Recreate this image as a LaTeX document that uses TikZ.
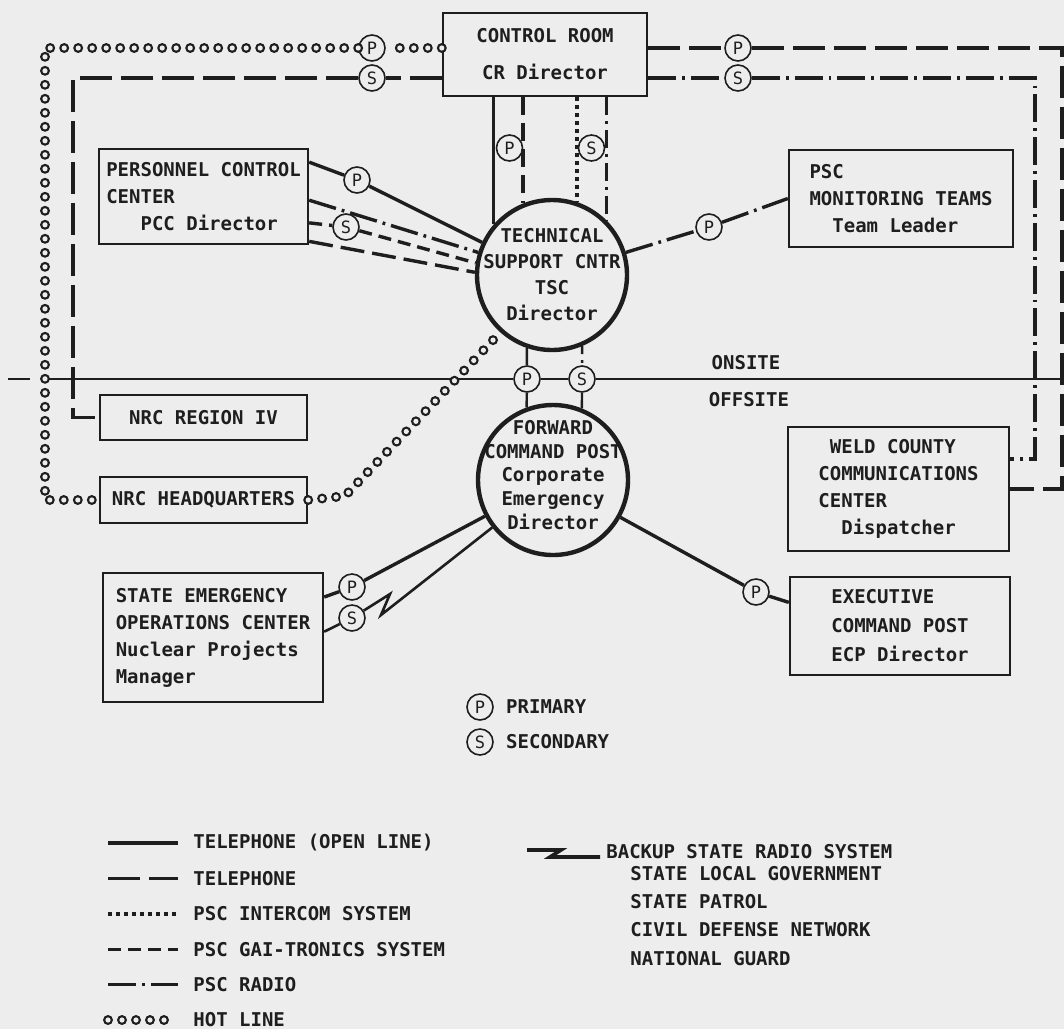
\documentclass[tikz,border=0pt]{standalone}
\usepackage{fontspec}
\newfontfamily\typer{DejaVu Sans Mono}[BoldFont={DejaVu Sans Mono Bold}]
\usetikzlibrary{positioning}

\definecolor{paper}{RGB}{237,237,237}
\definecolor{ink}{RGB}{30,30,30}

\begin{document}
\begin{tikzpicture}[
    x=0.5pt, y=-0.5pt,
    every node/.style={text=ink},
    box/.style={
      draw=ink, rectangle, line width=1.2pt, inner sep=0pt, align=center,
      font=\typer\bfseries\fontsize{9.5}{13.5}\selectfont
    },
    hub/.style={draw=ink, circle, line width=2.2pt, minimum size=75pt, inner sep=0pt},
    hubtext/.style={align=center, inner sep=0pt, font=\typer\bfseries\fontsize{9.5}{13}\selectfont},
    tag/.style={
      draw=ink, circle, line width=0.8pt, fill=paper, minimum size=13pt,
      inner sep=0pt, font=\typer\fontsize{8.5}{9}\selectfont
    },
    plain/.style={inner sep=1pt, font=\typer\bfseries\fontsize{9.5}{14.1}\selectfont},
    openline/.style={draw=ink, line width=1.7pt},
    phone/.style={draw=ink, line width=1.7pt, dash pattern=on 16pt off 4.5pt},
    intercom/.style={draw=ink, line width=1.7pt, dash pattern=on 1.8pt off 2.2pt},
    gaitronics/.style={draw=ink, line width=1.7pt, dash pattern=on 6.5pt off 3.5pt},
    radio/.style={draw=ink, line width=1.7pt, dash pattern=on 14pt off 3pt on 1.4pt off 3pt},
    hotline/.style={
      draw=ink, line width=5pt, line cap=round, dash pattern=on 0pt off 7pt,
      postaction={draw=paper, line width=2.6pt, line cap=round, dash pattern=on 0pt off 7pt}
    },
    backup/.style={draw=ink, line width=1.3pt},
    siteline/.style={draw=ink, line width=1pt}
]
    \path[use as bounding box, fill=paper] (0,0) rectangle (1064,1029);

    % Onsite nodes
    \node[box, minimum width=102pt, minimum height=41.5pt] (cr) at (545,54.5)
      {CONTROL ROOM\\[5pt]CR Director};
    \node[box, minimum width=104.5pt, minimum height=47.5pt, align=left] (pcc) at (203.5,196.5)
      {PERSONNEL CONTROL\\CENTER\\\phantom{XXX}PCC Director};
    \node[box, minimum width=112pt, minimum height=48.5pt, align=left] (psc) at (901,198.5)
      {PSC\\MONITORING TEAMS\\\phantom{XX}Team Leader};
    \node[hub, label={[hubtext]center:{TECHNICAL\\SUPPORT CNTR\\TSC\\Director}}] (tsc) at (552,275) {};

    % Offsite nodes
    \node[box, minimum width=103.5pt, minimum height=22.5pt] (nrcreg) at (203.5,417.5) {NRC REGION IV};
    \node[box, minimum width=103.5pt, minimum height=23pt] (nrchq) at (203.5,500) {NRC HEADQUARTERS};
    \node[hub, label={[hubtext, font=\typer\bfseries\fontsize{9.5}{11.8}\selectfont, yshift=2.5pt]center:{FORWARD\\COMMAND POST\\Corporate\\Emergency\\Director}}] (fcp) at (553,480) {};
    \node[box, minimum width=110.5pt, minimum height=62pt, align=left] (weld) at (898.5,489)
      {\phantom{X}WELD COUNTY\\COMMUNICATIONS\\CENTER\\\phantom{XX}Dispatcher};
    \node[box, minimum width=110pt, minimum height=49pt, align=left] (ecp) at (900,626)
      {EXECUTIVE\\[1pt]COMMAND POST\\[1pt]ECP Director};
    \node[box, minimum width=110pt, minimum height=64.5pt, align=left] (seoc) at (213,637.5)
      {STATE EMERGENCY\\OPERATIONS CENTER\\Nuclear Projects\\Manager};

    % Primary / secondary tags
    \node[tag] (phot) at (372,48) {P};
    \node[tag] (sphone) at (372,78) {S};
    \node[tag] (pright) at (738,48) {P};
    \node[tag] (sright) at (738,78) {S};
    \node[tag] (pcr) at (509.5,148) {P};
    \node[tag] (scr) at (591.5,148) {S};
    \node[tag] (ppcc) at (357,180) {P};
    \node[tag] (spcc) at (346,227) {S};
    \node[tag] (ppsc) at (709,227) {P};
    \node[tag] (pon) at (527,379) {P};
    \node[tag] (son) at (582,379) {S};
    \node[tag] (pseoc) at (352,587) {P};
    \node[tag] (sseoc) at (352,618) {S};
    \node[tag] (pecp) at (756,592) {P};

    % Onsite / offsite boundary
    \coordinate (siteA) at (8,379);
    \coordinate (siteB) at (30,379);
    \coordinate (siteW) at (45,379);
    \coordinate (siteE) at (1064,379);
    \draw[siteline] (siteA) -- (siteB);
    \draw[siteline] (siteW) -- (pon) -- (son) -- (siteE);
    \node[plain] (onsite) at (746,363) {ONSITE};
    \node[plain] (offsite) at (749,400) {OFFSITE};

    % Hot line
    \coordinate (hotNW) at (45,48);
    \coordinate (hotbend) at (345,496);
    \draw[hotline] (cr.west |- phot) -- (phot);
    \draw[hotline] (phot) -- (hotNW) |- (nrchq.west);
    \draw[hotline] (nrchq.east) -- (hotbend) -- (tsc.228);

    % Control room links
    \coordinate (phoneNW) at (73,78);
    \coordinate (phoneNE) at (1062,48);
    \coordinate (radioNE) at (1035,78);
    \draw[phone] (cr.west |- sphone) -- (sphone);
    \draw[phone] (sphone) -- (phoneNW) |- (nrcreg.west);
    \draw[phone] (cr.east |- pright) -- (pright);
    \draw[phone] (pright) -- (phoneNE) |- (weld.east);
    \draw[radio] (cr.east |- sright) -- (sright);
    \draw[radio] (sright) -- (radioNE) |- (weld.15);
    \draw[openline] (tsc.139 |- cr.south) -- (tsc.139);
    \draw[phone, dash pattern=on 9pt off 4pt] (tsc.112 |- cr.south) -- (tsc.112);
    \draw[intercom] (tsc.71 |- cr.south) -- (tsc.71);
    \draw[radio, dash pattern=on 9pt off 3pt on 1.4pt off 3pt] (tsc.45 |- cr.south) -- (tsc.45);

    % TSC links
    \draw[openline] (pcc.18) -- (ppcc) -- (tsc.155);
    \draw[radio] (pcc.-2) -- (tsc.163);
    \draw[gaitronics] (pcc.-14) -- (spcc) -- (tsc.171);
    \draw[phone, dash pattern=on 12pt off 4pt] (pcc.-23) -- (tsc.178);
    \draw[radio] (tsc.17) -- (ppsc) -- (psc.west);
    \draw[openline, line width=1.2pt] (tsc.-109) -- (pon) -- (fcp.110);
    \draw[radio, line width=1.2pt, dash pattern=on 4pt off 3pt on 1.4pt off 3pt] (tsc.-67) -- (son);
    \draw[openline, line width=1.2pt] (son) -- (fcp.68);

    % Forward command post links
    \coordinate (zigA) at (390,594);
    \coordinate (zigB) at (381,615);
    \draw[openline] (fcp.208) -- (pseoc) -- (seoc.20);
    \draw[backup] (seoc.3) -- (sseoc) -- (zigA) -- (zigB) -- (fcp.218);
    \draw[openline] (fcp.-29) -- (pecp) -- (ecp.168);

    % Legend
    \node[tag] (plegend) at (480,707) {P};
    \node[plain, right=5pt of plegend] (primary) {PRIMARY};
    \node[tag] (slegend) at (480,742) {S};
    \node[plain, right=5pt of slegend] (secondary) {SECONDARY};

    \foreach \sty/\txt [count=\i] in {openline/TELEPHONE (OPEN LINE), phone/TELEPHONE,
        intercom/PSC INTERCOM SYSTEM, gaitronics/PSC GAI-TRONICS SYSTEM,
        radio/PSC RADIO, hotline/HOT LINE} {
      \coordinate (swatch\i) at (108,{843+35.4*(\i-1)});
      \node[plain, anchor=west, inner xsep=4.5pt] (legend\i) at (184,{843+35.4*(\i-1)}) {\txt};
      \draw[\sty] (swatch\i) -- ([xshift=-3pt]legend\i.west);
    }

    \node[plain, anchor=west, inner xsep=3pt] (bktitle) at (600,852) {BACKUP STATE RADIO SYSTEM};
    \node[plain, anchor=north west, align=left] (bklist) at (628,864)
      {STATE LOCAL GOVERNMENT\\STATE PATROL\\CIVIL DEFENSE NETWORK\\NATIONAL GUARD};
    \coordinate (bkA) at (527,850);
    \coordinate (bkB) at (561,850);
    \coordinate (bkC) at (550,857);
    \draw[backup, line width=1.8pt] (bkA) -- (bkB) -- (bkC) -- (bkC -| bktitle.west);
\end{tikzpicture}
\end{document}
